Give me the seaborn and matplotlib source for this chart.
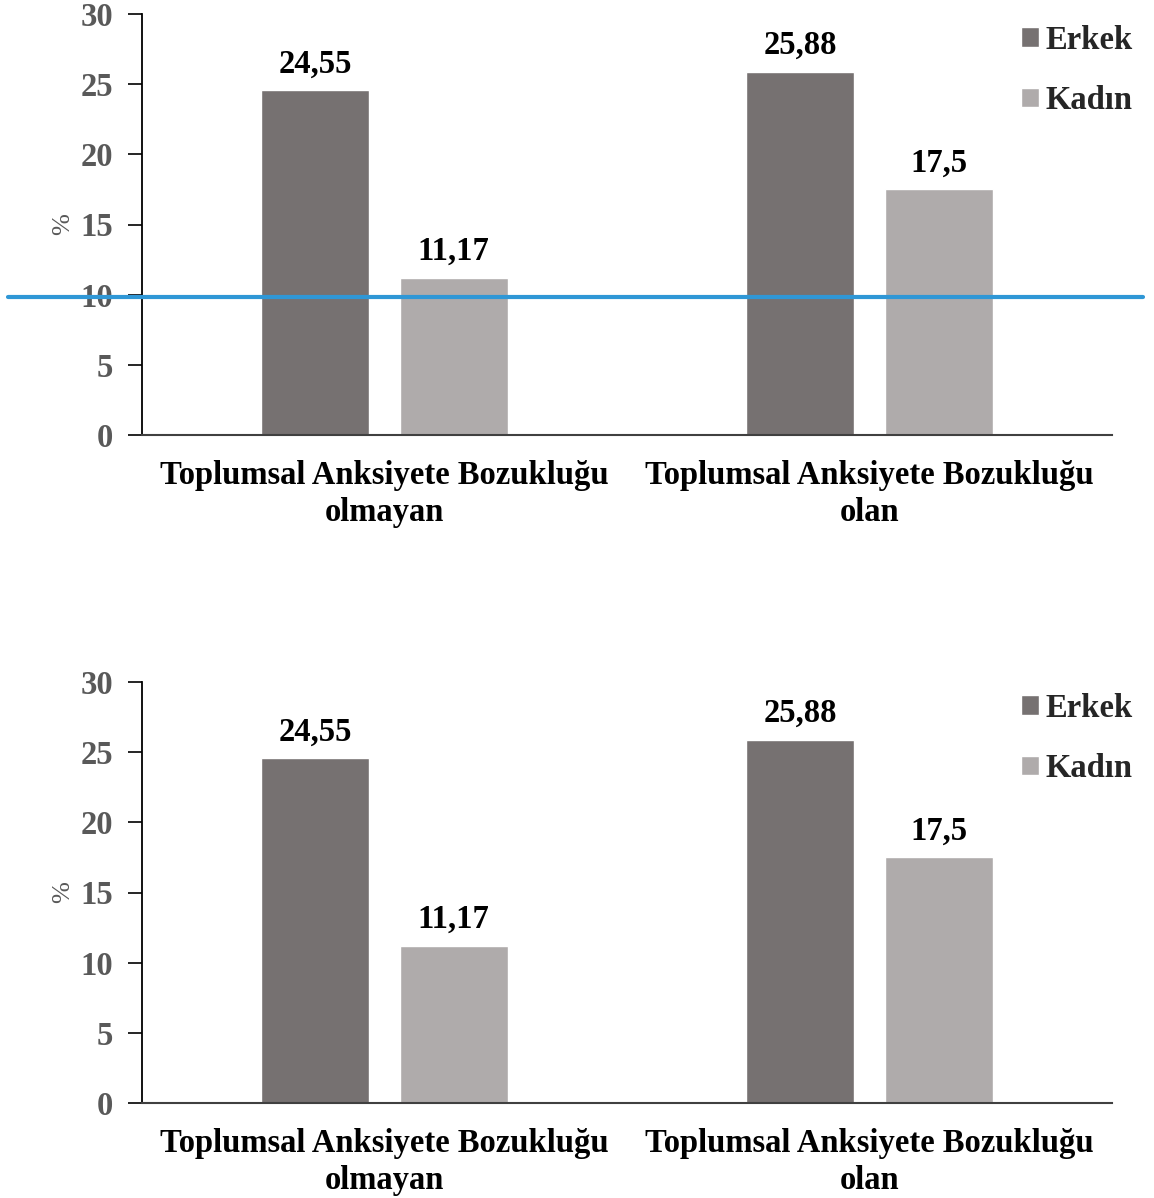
import matplotlib
matplotlib.use("Agg")
import matplotlib.pyplot as plt
import seaborn as sns
import pandas as pd

categories = ["Toplumsal Anksiyete Bozukluğu\nolmayan", "Toplumsal Anksiyete Bozukluğu\nolan"]
groups = ["Erkek", "Kadın"]
erkek = [24.55, 25.88]
kadin = [11.17, 17.5]
y_ticks = [0, 5, 10, 15, 20, 25, 30]
ref_line = 9.85
colors = {"Erkek": "#767171", "Kadın": "#AFABAB"}

df = pd.DataFrame({
    "cat": categories * 2,
    "grp": ["Erkek"] * 2 + ["Kadın"] * 2,
    "val": erkek + kadin,
})

sns.set_theme(style="white")
plt.rcParams["font.family"] = ["Liberation Serif", "DejaVu Serif"]

fig = plt.figure(figsize=(11.54, 11.98), dpi=100)
W, H = 1154, 1198
ax_top = fig.add_axes([142 / W, 1 - 435 / H, 970 / W, 421 / H])
ax_bot = fig.add_axes([142 / W, 1 - 1103 / H, 970 / W, 421 / H])

FS = 23.5
for i, ax in enumerate([ax_top, ax_bot]):
    sns.barplot(data=df, x="cat", y="val", hue="grp", order=categories,
                hue_order=groups, palette=colors, width=0.57, gap=0.22,
                ax=ax, saturation=1, errorbar=None)
    ax.set_xlim(-0.5, 1.5)
    ax.set_ylim(0, 30)
    ax.set_yticks(y_ticks)
    ax.set_yticklabels([str(t) for t in y_ticks], fontsize=FS, fontweight="bold", color="#595959")
    ax.tick_params(axis="y", length=10, width=1.2, color="black", pad=11, direction="out", left=True)
    ax.tick_params(axis="x", length=0, pad=18)
    for lbl in ax.get_xticklabels():
        lbl.set_fontsize(FS)
        lbl.set_fontweight("bold")
        lbl.set_color("black")
        lbl.set_linespacing(1.26)
    ax.set_xlabel("")
    ax.set_ylabel("%", fontsize=19, color="#595959", labelpad=4)
    for s in ["top", "right"]:
        ax.spines[s].set_visible(False)
    ax.spines["left"].set_color("black")
    ax.spines["left"].set_linewidth(1.3)
    ax.spines["bottom"].set_color("#404040")
    ax.spines["bottom"].set_linewidth(1.5)
    for cont in ax.containers:
        ax.bar_label(cont, labels=[f"{v:g}".replace(".", ",") for v in cont.datavalues],
                     padding=8, fontsize=FS, fontweight="bold", color="black")
    handles, labels = ax.get_legend_handles_labels()
    ax.legend(handles, labels, loc="upper left", bbox_to_anchor=(0.906, 0.975),
              frameon=False, borderaxespad=0, borderpad=0, handlelength=0.55,
              handleheight=0.55, handletextpad=0.2, labelspacing=0.9,
              prop={"size": FS, "weight": "bold"})

ax_top.axhline(ref_line, xmin=(8 - 142) / 970, xmax=(1143 - 142) / 970,
               color="#2F97D6", linewidth=3, clip_on=False, zorder=5)

fig.savefig("out.png", dpi=100, facecolor="white")
